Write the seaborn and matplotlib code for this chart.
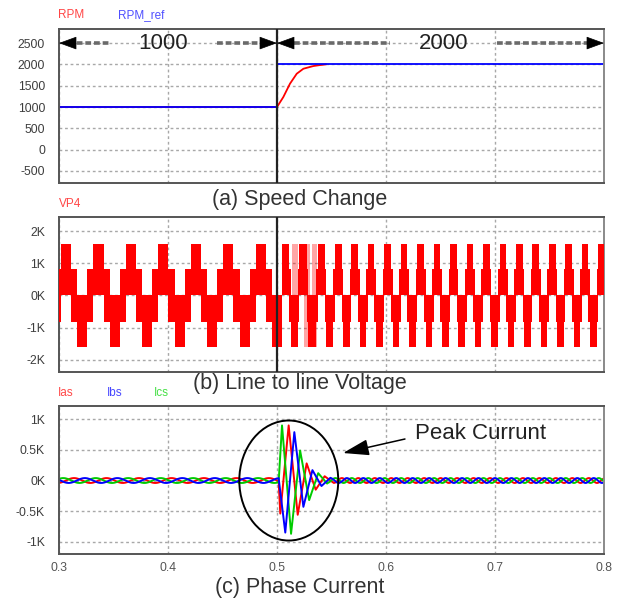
import numpy as np
import pandas as pd
import matplotlib
matplotlib.use("Agg")
import matplotlib.pyplot as plt
import seaborn as sns
from matplotlib.patches import Ellipse

# ---- time axis (s) ----
t_min, t_max, t_step = 0.3, 0.8, 0.5
x_ticks = [0.3, 0.4, 0.5, 0.6, 0.7, 0.8]

# ---- (a) speed ----
rpm_ref_t = [0.3, 0.5, 0.5, 0.8]
rpm_ref_v = [1000, 1000, 2000, 2000]
rpm_t = [0.3, 0.5, 0.5058, 0.5119, 0.5181, 0.5242, 0.5333, 0.5394, 0.545]
rpm_v = [1000, 1000, 1234, 1547, 1781, 1898, 1961, 1984, 2000]
speed_ticks = [2500, 2000, 1500, 1000, 500, 0, -500]

# ---- (b) line to line voltage (chopped stepped wave, envelope levels) ----
v_hi, v_mid = 1620, 820
period_1, period_2 = 0.0298, 0.0151
frac_1 = [0.31, 0.19, 0.31, 0.19]   # +pulse, mid, -pulse, mid
frac_2 = [0.40, 0.10, 0.40, 0.10]
pulse_starts = [0.3018, 0.3316, 0.3614, 0.3912, 0.4210, 0.4508, 0.4806,
                0.5043, 0.5205, 0.5372, 0.5532, 0.5683, 0.5834, 0.5985,
                0.6136, 0.6287, 0.6438, 0.6589, 0.6740, 0.6891, 0.7042,
                0.7193, 0.7344, 0.7495, 0.7646, 0.7797, 0.7948]
pink_t0 = [0.5135, 0.5245, 0.5320]
pink_t1 = [0.5195, 0.5300, 0.5370]
pink_lo = [0, -1620, -1620]
pink_hi = [1620, 1620, 1620]
volt_ticks = [2000, 1000, 0, -1000, -2000]
volt_labels = ["2K", "1K", "0K", "-1K", "-2K"]

# ---- (c) phase currents ----
amp_ss = 40
ias_peak_1, ias_peak_2 = 0.3138, 0.552     # steady-state peak / trough refs
ibs_peak_2, ics_peak_2 = 0.549, 0.546
trans_start = 0.5015
ias_t = [0.5030, 0.5107, 0.5190, 0.5272, 0.5355, 0.5437, 0.5520]
ias_v = [-540, 900, -560, 280, -150, 70, -40]
ibs_t = [0.5076, 0.5159, 0.5242, 0.5325, 0.5408, 0.5490]
ibs_v = [-850, 790, -430, 170, -90, 45]
ics_t = [0.5046, 0.5129, 0.5212, 0.5295, 0.5378, 0.5460]
ics_v = [900, -870, 490, -320, 120, -50]
cur_ticks = [1000, 500, 0, -500, -1000]
cur_labels = ["1K", "0.5K", "0K", "-0.5K", "-1K"]

RED, BLUE, GREEN = "#ff0000", "#0000ff", "#00cc00"
TICK_C = "#3d3d3d"
GRID_C = "#a8a8a8"

sns.set_theme(style="white")
plt.rcParams["font.family"] = ["Liberation Sans", "DejaVu Sans"]

fig = plt.figure(figsize=(6.24, 5.99), dpi=100)
W, H = 624, 599
ax1 = fig.add_axes([59 / W, 1 - 183 / H, 545 / W, 154 / H])
ax2 = fig.add_axes([59 / W, 1 - 372 / H, 545 / W, 155 / H])
ax3 = fig.add_axes([59 / W, 1 - 554 / H, 545 / W, 148 / H])


def style_axes(ax, yticks, ylabels, ylim):
    ax.set_xlim(t_min, t_max)
    ax.set_ylim(*ylim)
    ax.set_xticks(x_ticks)
    ax.set_yticks(yticks)
    ax.set_yticklabels(ylabels)
    ax.grid(True, color=GRID_C, lw=1.0, ls=(0, (2, 2)))
    ax.set_axisbelow(True)
    ax.tick_params(axis="both", length=0, pad=10, labelsize=8.8, labelcolor=TICK_C)
    for name, sp in ax.spines.items():
        sp.set_visible(True)
        sp.set_color("#555555" if name in ("left", "bottom", "top") else "#8a8a8a")
        sp.set_linewidth(1.4)
    ax.set_xlabel("")
    ax.set_ylabel("")


# ---------- (a) ----------
sns.lineplot(x=rpm_t, y=rpm_v, ax=ax1, color=RED, lw=1.3, estimator=None, sort=False)
sns.lineplot(x=rpm_ref_t, y=rpm_ref_v, ax=ax1, color=BLUE, lw=1.3, estimator=None, sort=False)
ax1.axvline(t_step, color="#222222", lw=1.6, zorder=5)
style_axes(ax1, speed_ticks, [str(v) for v in speed_ticks], (-782, 2830))
ax1.set_xticklabels([])


def range_arrow(ax, t0, t1, label, shaft_l, shaft_r):
    y = 2500
    ax.plot(shaft_l, [y, y], color="#6a6a6a", lw=2.6, ls=(0, (1.6, 0.8)), zorder=4)
    ax.plot(shaft_r, [y, y], color="#6a6a6a", lw=2.6, ls=(0, (1.6, 0.8)), zorder=4)
    hl = 0.0147
    props = dict(arrowstyle="-|>,head_length=1.15,head_width=0.42", fc="black",
                 ec="black", lw=0.5, shrinkA=0, shrinkB=0, mutation_scale=10)
    ax.annotate("", xy=(t0, y), xytext=(t0 + hl, y), arrowprops=props, zorder=6)
    ax.annotate("", xy=(t1, y), xytext=(t1 - hl, y), arrowprops=props, zorder=6)
    ax.text((shaft_l[1] + shaft_r[0]) / 2, y, label, ha="center", va="center",
            fontsize=16, color="#222222", zorder=6)


range_arrow(ax1, 0.3, 0.5, "1000", [0.3081, 0.3468], [0.4450, 0.4850])
range_arrow(ax1, 0.5, 0.8, "2000", [0.5160, 0.6037], [0.7018, 0.7860])

# ---------- (b) ----------
edges, upper, lower = [t_min], [v_mid], [-v_mid]
for i, s in enumerate(pulse_starts):
    nxt = pulse_starts[i + 1] if i + 1 < len(pulse_starts) else t_max
    if s < t_step:
        P, fr = period_1, frac_1
    else:
        P = (nxt - s) if i + 1 < len(pulse_starts) else period_2
        fr = frac_2
    levels = [(v_hi, 0), (v_mid, -v_mid), (0, -v_hi), (v_mid, -v_mid)]
    cur = s
    for f, (u, l) in zip(fr, levels):
        if cur >= min(nxt, t_max):
            break
        edges.append(cur)
        upper.append(u)
        lower.append(l)
        cur = cur + f * P
edges.append(t_max)
upper.append(upper[-1])
lower.append(lower[-1])

for a, b, lo, hi in zip(pink_t0, pink_t1, pink_lo, pink_hi):
    ax2.fill_between([a, b], [lo, lo], [hi, hi], color=RED, alpha=0.35, lw=0, zorder=2)
ax2.fill_between(edges, lower, upper, step="post", color=RED, lw=0, zorder=3)
ax2.axvline(t_step, color="#222222", lw=1.6, zorder=5)
style_axes(ax2, volt_ticks, volt_labels, (-2389, 2451))
ax2.set_xticklabels([])

# ---------- (c) ----------
tt = np.linspace(t_min, t_max, 6001)


def phase_curve(peak1, shift, peak2, sign2, tr_t, tr_v):
    pre = tt[tt <= trans_start]
    post = tt[tt >= tr_t[-1]]
    y_pre = amp_ss * np.cos(2 * np.pi / period_1 * (pre - peak1 - shift))
    y_post = sign2 * amp_ss * np.cos(2 * np.pi / period_2 * (post - peak2))
    x = np.concatenate([pre, tr_t, post])
    y = np.concatenate([y_pre, tr_v, y_post])
    return pd.DataFrame({"t": x, "i": y})


ias = phase_curve(ias_peak_1, 0.0, ias_peak_2, -1, ias_t, ias_v)
ibs = phase_curve(ias_peak_1, period_1 / 3, ibs_peak_2, 1, ibs_t, ibs_v)
ics = phase_curve(ias_peak_1, -period_1 / 3, ics_peak_2, -1, ics_t, ics_v)

for df, c in [(ias, RED), (ics, GREEN), (ibs, BLUE)]:
    sns.lineplot(data=df, x="t", y="i", ax=ax3, color=c, lw=1.4, estimator=None, sort=False)
style_axes(ax3, cur_ticks, cur_labels, (-1200, 1217))
ax3.set_xticklabels([f"{v:.1f}" for v in x_ticks])
ax3.tick_params(axis="x", pad=6, labelcolor="#555555")

ax3.add_patch(Ellipse((0.5108, 0), 0.0908, 1960, fill=False, ec="black", lw=1.4, zorder=6))
ax3.annotate("", xy=(0.5606, 449), xytext=(0.6174, 678),
             arrowprops=dict(arrowstyle="-|>,head_length=1.6,head_width=0.5", fc="black",
                             ec="black", lw=1.1, shrinkA=0, shrinkB=0, mutation_scale=10),
             zorder=6)
ax3.text(0.6266, 776, "Peak Currunt", ha="left", va="center", fontsize=16,
         color="#222222", zorder=6)

# ---------- series labels and captions ----------
def ftext(px, py, s, color, **kw):
    fig.text(px / W, 1 - py / H, s, color=color, va="center", **kw)


ftext(58, 15.5, "RPM", "#ff4646", fontsize=8.5)
ftext(118, 15.5, "RPM_ref", "#5050ff", fontsize=8.5)
ftext(59, 204, "VP4", "#ff4646", fontsize=8.5)
ftext(58, 392.5, "Ias", "#ff4646", fontsize=8.5)
ftext(107, 392.5, "Ibs", "#4646ff", fontsize=8.5)
ftext(154, 392.5, "Ics", "#46e046", fontsize=8.5)

ftext(300, 199, "(a) Speed Change", "#333333", fontsize=15.5, ha="center")
ftext(300, 383, "(b) Line to line Voltage", "#333333", fontsize=15.5, ha="center")
ftext(300, 588, "(c) Phase Current", "#333333", fontsize=15.5, ha="center")

fig.savefig("out.png", dpi=100)
